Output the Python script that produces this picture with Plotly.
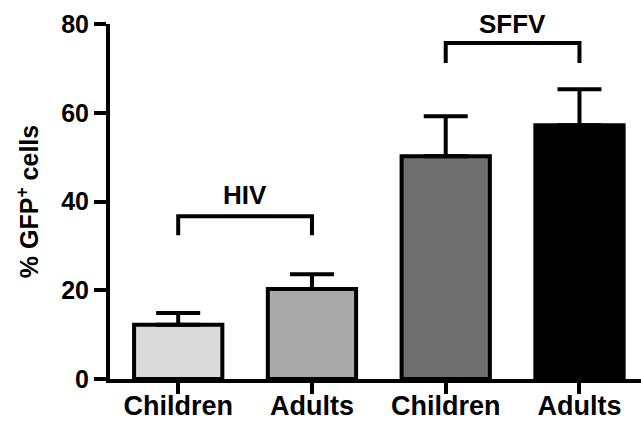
import plotly.graph_objects as go

categories = ["Children", "Adults", "Children", "Adults"]
groups = ["HIV", "HIV", "SFFV", "SFFV"]
values = [12.2, 20.3, 50.2, 57.2]
errors = [2.7, 3.3, 9.0, 8.1]
colors = ["#dadada", "#a9a9a9", "#6f6f6f", "#000000"]
y_ticks = [0, 20, 40, 60, 80]

# brackets: (group label, start index, end index, leg bottom, top, label y)
brackets = [("HIV", 0, 1, 32.4, 36.7, 41.5), ("SFFV", 2, 3, 71.2, 75.7, 80.0)]

FONT = "Liberation Sans, Arial, sans-serif"
xs = list(range(len(categories)))

fig = go.Figure()
fig.add_trace(go.Bar(
    x=xs, y=values, width=0.66,
    marker=dict(color=colors, line=dict(color="black", width=4)),
    error_y=dict(type="data", array=errors, arrayminus=[0] * len(errors),
                 symmetric=False, color="black", thickness=4, width=22),
    showlegend=False,
))

for label, a, b, lo, hi, ly in brackets:
    fig.add_trace(go.Scatter(
        x=[a, a, b, b], y=[lo, hi, hi, lo], mode="lines",
        line=dict(color="black", width=4), showlegend=False, cliponaxis=False,
        hoverinfo="skip",
    ))
    fig.add_annotation(x=(a + b) / 2, y=ly, text=f"<b>{label}</b>", showarrow=False,
                       font=dict(family=FONT, size=26, color="black"),
                       xanchor="center", yanchor="middle")

fig.update_layout(
    width=641, height=424,
    margin=dict(l=110, r=0, t=24, b=45),
    plot_bgcolor="white", paper_bgcolor="white",
    font=dict(family=FONT, color="black"),
    bargap=0.3,
)
fig.update_xaxes(
    range=[-0.51, 3.46], tickvals=xs,
    ticktext=[f"<b>{c}</b>" for c in categories],
    tickfont=dict(family=FONT, size=27, color="black"),
    showline=True, linecolor="black", linewidth=4,
    ticks="outside", ticklen=11, tickwidth=4, tickcolor="black",
    ticklabelstandoff=-11,
    showgrid=False, zeroline=False, automargin=False,
)
fig.update_yaxes(
    range=[0, 80], tickvals=y_ticks,
    ticktext=[f"<b>{t}</b>" for t in y_ticks],
    tickfont=dict(family=FONT, size=25, color="black"),
    showline=True, linecolor="black", linewidth=4,
    ticks="outside", ticklen=12, tickwidth=4, tickcolor="black",
    showgrid=False, zeroline=False, automargin=False,
    title=dict(text="<b>% GFP<sup>+</sup> cells</b>",
               font=dict(family=FONT, size=25, color="black"), standoff=16),
)

fig.write_html("out.html", config={"displayModeBar": False},
               post_script="document.body.style.margin='0';")
